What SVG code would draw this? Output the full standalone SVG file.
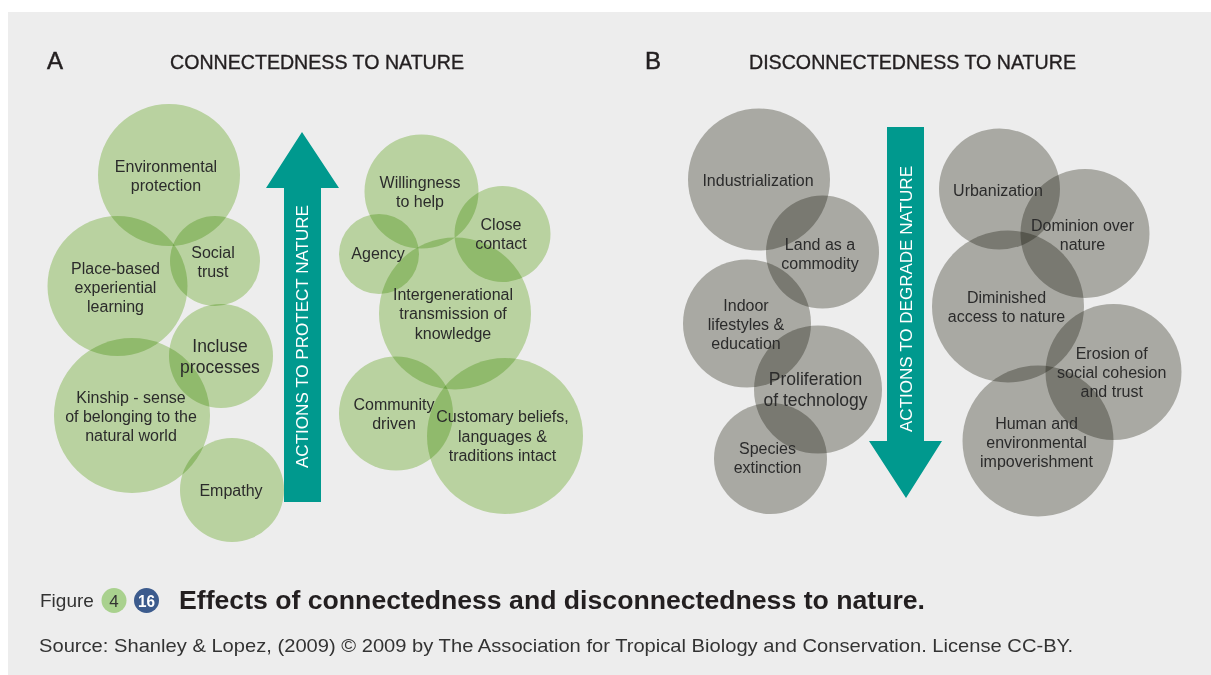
<svg xmlns="http://www.w3.org/2000/svg" width="1211" height="675" viewBox="0 0 1211 675">
<style>
.g{fill:#c7e2ac;mix-blend-mode:multiply}
.k{fill:#b6b6b0;mix-blend-mode:multiply}
text{font-family:"Liberation Sans",Arial,sans-serif}
.t{font-size:16px;fill:#2b2b2b;text-anchor:middle}
.tb{font-size:17.5px;fill:#2b2b2b;text-anchor:middle}
.h{font-size:19.5px;fill:#231f20;stroke:#231f20;stroke-width:0.35}
.L{font-size:24px;fill:#231f20;stroke:#231f20;stroke-width:0.5}
.ar{fill:#00998e}
.at{font-size:17px;fill:#ffffff;text-anchor:middle}
</style>
<rect x="8" y="12" width="1203" height="663" fill="#ededed"/>
<text class="L" x="47" y="69">A</text>
<text class="h" x="170" y="69" textLength="294" lengthAdjust="spacingAndGlyphs">CONNECTEDNESS TO NATURE</text>
<text class="L" x="645" y="69">B</text>
<text class="h" x="749" y="69" textLength="327" lengthAdjust="spacingAndGlyphs">DISCONNECTEDNESS TO NATURE</text>

<g id="connectors">
<g id="arrow-protect">
<path class="ar" d="M284,502 L321,502 L321,188 L339,188 L302,132 L266,188 L284,188 Z"/>
<text class="at" transform="translate(308.3,336.5) rotate(-90)" textLength="263" lengthAdjust="spacingAndGlyphs">ACTIONS TO PROTECT NATURE</text>
</g>
<g id="arrow-degrade">
<path class="ar" d="M887,127 L924,127 L924,441 L942,441 L906,498 L869,441 L887,441 Z"/>
<text class="at" transform="translate(911.6,299) rotate(-90)" textLength="266" lengthAdjust="spacingAndGlyphs">ACTIONS TO DEGRADE NATURE</text>
</g>
</g>

<g id="n-env"><circle class="g" cx="169" cy="175" r="71"/></g>
<g id="n-social"><circle class="g" cx="215" cy="261" r="45"/></g>
<g id="n-place"><circle class="g" cx="117.5" cy="286" r="70"/></g>
<g id="n-incluse"><circle class="g" cx="221" cy="356" r="52"/></g>
<g id="n-kinship"><ellipse class="g" cx="132" cy="415.5" rx="78" ry="77.5"/></g>
<g id="n-empathy"><circle class="g" cx="232" cy="490" r="52"/></g>
<g id="n-willing"><circle class="g" cx="421.5" cy="191.5" r="57"/></g>
<g id="n-close"><circle class="g" cx="502.5" cy="234" r="48"/></g>
<g id="n-agency"><circle class="g" cx="379" cy="254" r="40"/></g>
<g id="n-inter"><circle class="g" cx="455" cy="313.5" r="76"/></g>
<g id="n-community"><circle class="g" cx="396" cy="413.5" r="57"/></g>
<g id="n-customary"><circle class="g" cx="505" cy="436" r="78"/></g>

<g id="n-industrial"><circle class="k" cx="759" cy="179.5" r="71"/></g>
<g id="n-land"><circle class="k" cx="822.5" cy="252" r="56.5"/></g>
<g id="n-indoor"><circle class="k" cx="747" cy="323.5" r="64"/></g>
<g id="n-prolif"><circle class="k" cx="818" cy="389.5" r="64"/></g>
<g id="n-species"><ellipse class="k" cx="770.5" cy="458.5" rx="56.5" ry="55.5"/></g>
<g id="n-urban"><circle class="k" cx="999.5" cy="189" r="60.5"/></g>
<g id="n-dominion"><circle class="k" cx="1085" cy="233.5" r="64.5"/></g>
<g id="n-diminished"><circle class="k" cx="1008" cy="306.5" r="76"/></g>
<g id="n-erosion"><circle class="k" cx="1113.5" cy="372" r="68"/></g>
<g id="n-human"><circle class="k" cx="1038" cy="441" r="75.5"/></g>

<g id="labels">
<text class="t" x="166" y="171.5">Environmental</text>
<text class="t" x="166" y="190.5">protection</text>
<text class="t" x="213" y="257.5">Social</text>
<text class="t" x="213" y="276.5">trust</text>
<text class="t" x="115.5" y="273.5">Place-based</text>
<text class="t" x="115.5" y="292.5">experiential</text>
<text class="t" x="115.5" y="311.5">learning</text>
<text class="tb" x="220" y="352">Incluse</text>
<text class="tb" x="220" y="373">processes</text>
<text class="t" x="131" y="402.5">Kinship - sense</text>
<text class="t" x="131" y="421.5">of belonging to the</text>
<text class="t" x="131" y="440.5">natural world</text>
<text class="t" x="231" y="496">Empathy</text>
<text class="t" x="420" y="188">Willingness</text>
<text class="t" x="420" y="207">to help</text>
<text class="t" x="501" y="229.5">Close</text>
<text class="t" x="501" y="249">contact</text>
<text class="t" x="378" y="259">Agency</text>
<text class="t" x="453" y="300">Intergenerational</text>
<text class="t" x="453" y="319">transmission of</text>
<text class="t" x="453" y="338.5">knowledge</text>
<text class="t" x="394" y="410">Community</text>
<text class="t" x="394" y="429">driven</text>
<text class="t" x="502.5" y="422">Customary beliefs,</text>
<text class="t" x="502.5" y="441.5">languages &amp;</text>
<text class="t" x="502.5" y="460.5">traditions intact</text>

<text class="t" x="758" y="185.5">Industrialization</text>
<text class="t" x="820" y="249.5">Land as a</text>
<text class="t" x="820" y="268.5">commodity</text>
<text class="t" x="746" y="310.5">Indoor</text>
<text class="t" x="746" y="329.5">lifestyles &amp;</text>
<text class="t" x="746" y="348.5">education</text>
<text class="tb" x="815.5" y="385">Proliferation</text>
<text class="tb" x="815.5" y="406">of technology</text>
<text class="t" x="767.5" y="453.5">Species</text>
<text class="t" x="767.5" y="473">extinction</text>
<text class="t" x="998" y="195.5">Urbanization</text>
<text class="t" x="1082.5" y="230.5">Dominion over</text>
<text class="t" x="1082.5" y="249.5">nature</text>
<text class="t" x="1006.5" y="302.5">Diminished</text>
<text class="t" x="1006.5" y="322">access to nature</text>
<text class="t" x="1111.7" y="358.5">Erosion of</text>
<text class="t" x="1111.7" y="378">social cohesion</text>
<text class="t" x="1111.7" y="397">and trust</text>
<text class="t" x="1036.5" y="428.5">Human and</text>
<text class="t" x="1036.5" y="447.5">environmental</text>
<text class="t" x="1036.5" y="466.5">impoverishment</text>
</g>

<g id="caption">
<text x="40" y="607" font-size="19" fill="#333333">Figure</text>
<circle cx="114" cy="600.5" r="12.5" fill="#a9d18e"/>
<text x="114" y="607" font-size="17" fill="#333333" text-anchor="middle">4</text>
<circle cx="146.5" cy="600.5" r="12.5" fill="#3c5b8d"/>
<text x="146.5" y="607" font-size="17" font-weight="bold" fill="#ffffff" text-anchor="middle" textLength="17" lengthAdjust="spacingAndGlyphs">16</text>
<text x="179" y="608.5" font-size="25.5" font-weight="bold" fill="#231f20" textLength="746" lengthAdjust="spacingAndGlyphs">Effects of connectedness and disconnectedness to nature.</text>
<text x="39" y="652" font-size="19" fill="#333333" textLength="1034" lengthAdjust="spacingAndGlyphs">Source: Shanley &amp; Lopez, (2009) © 2009 by The Association for Tropical Biology and Conservation. License CC-BY.</text>
</g>
</svg>
